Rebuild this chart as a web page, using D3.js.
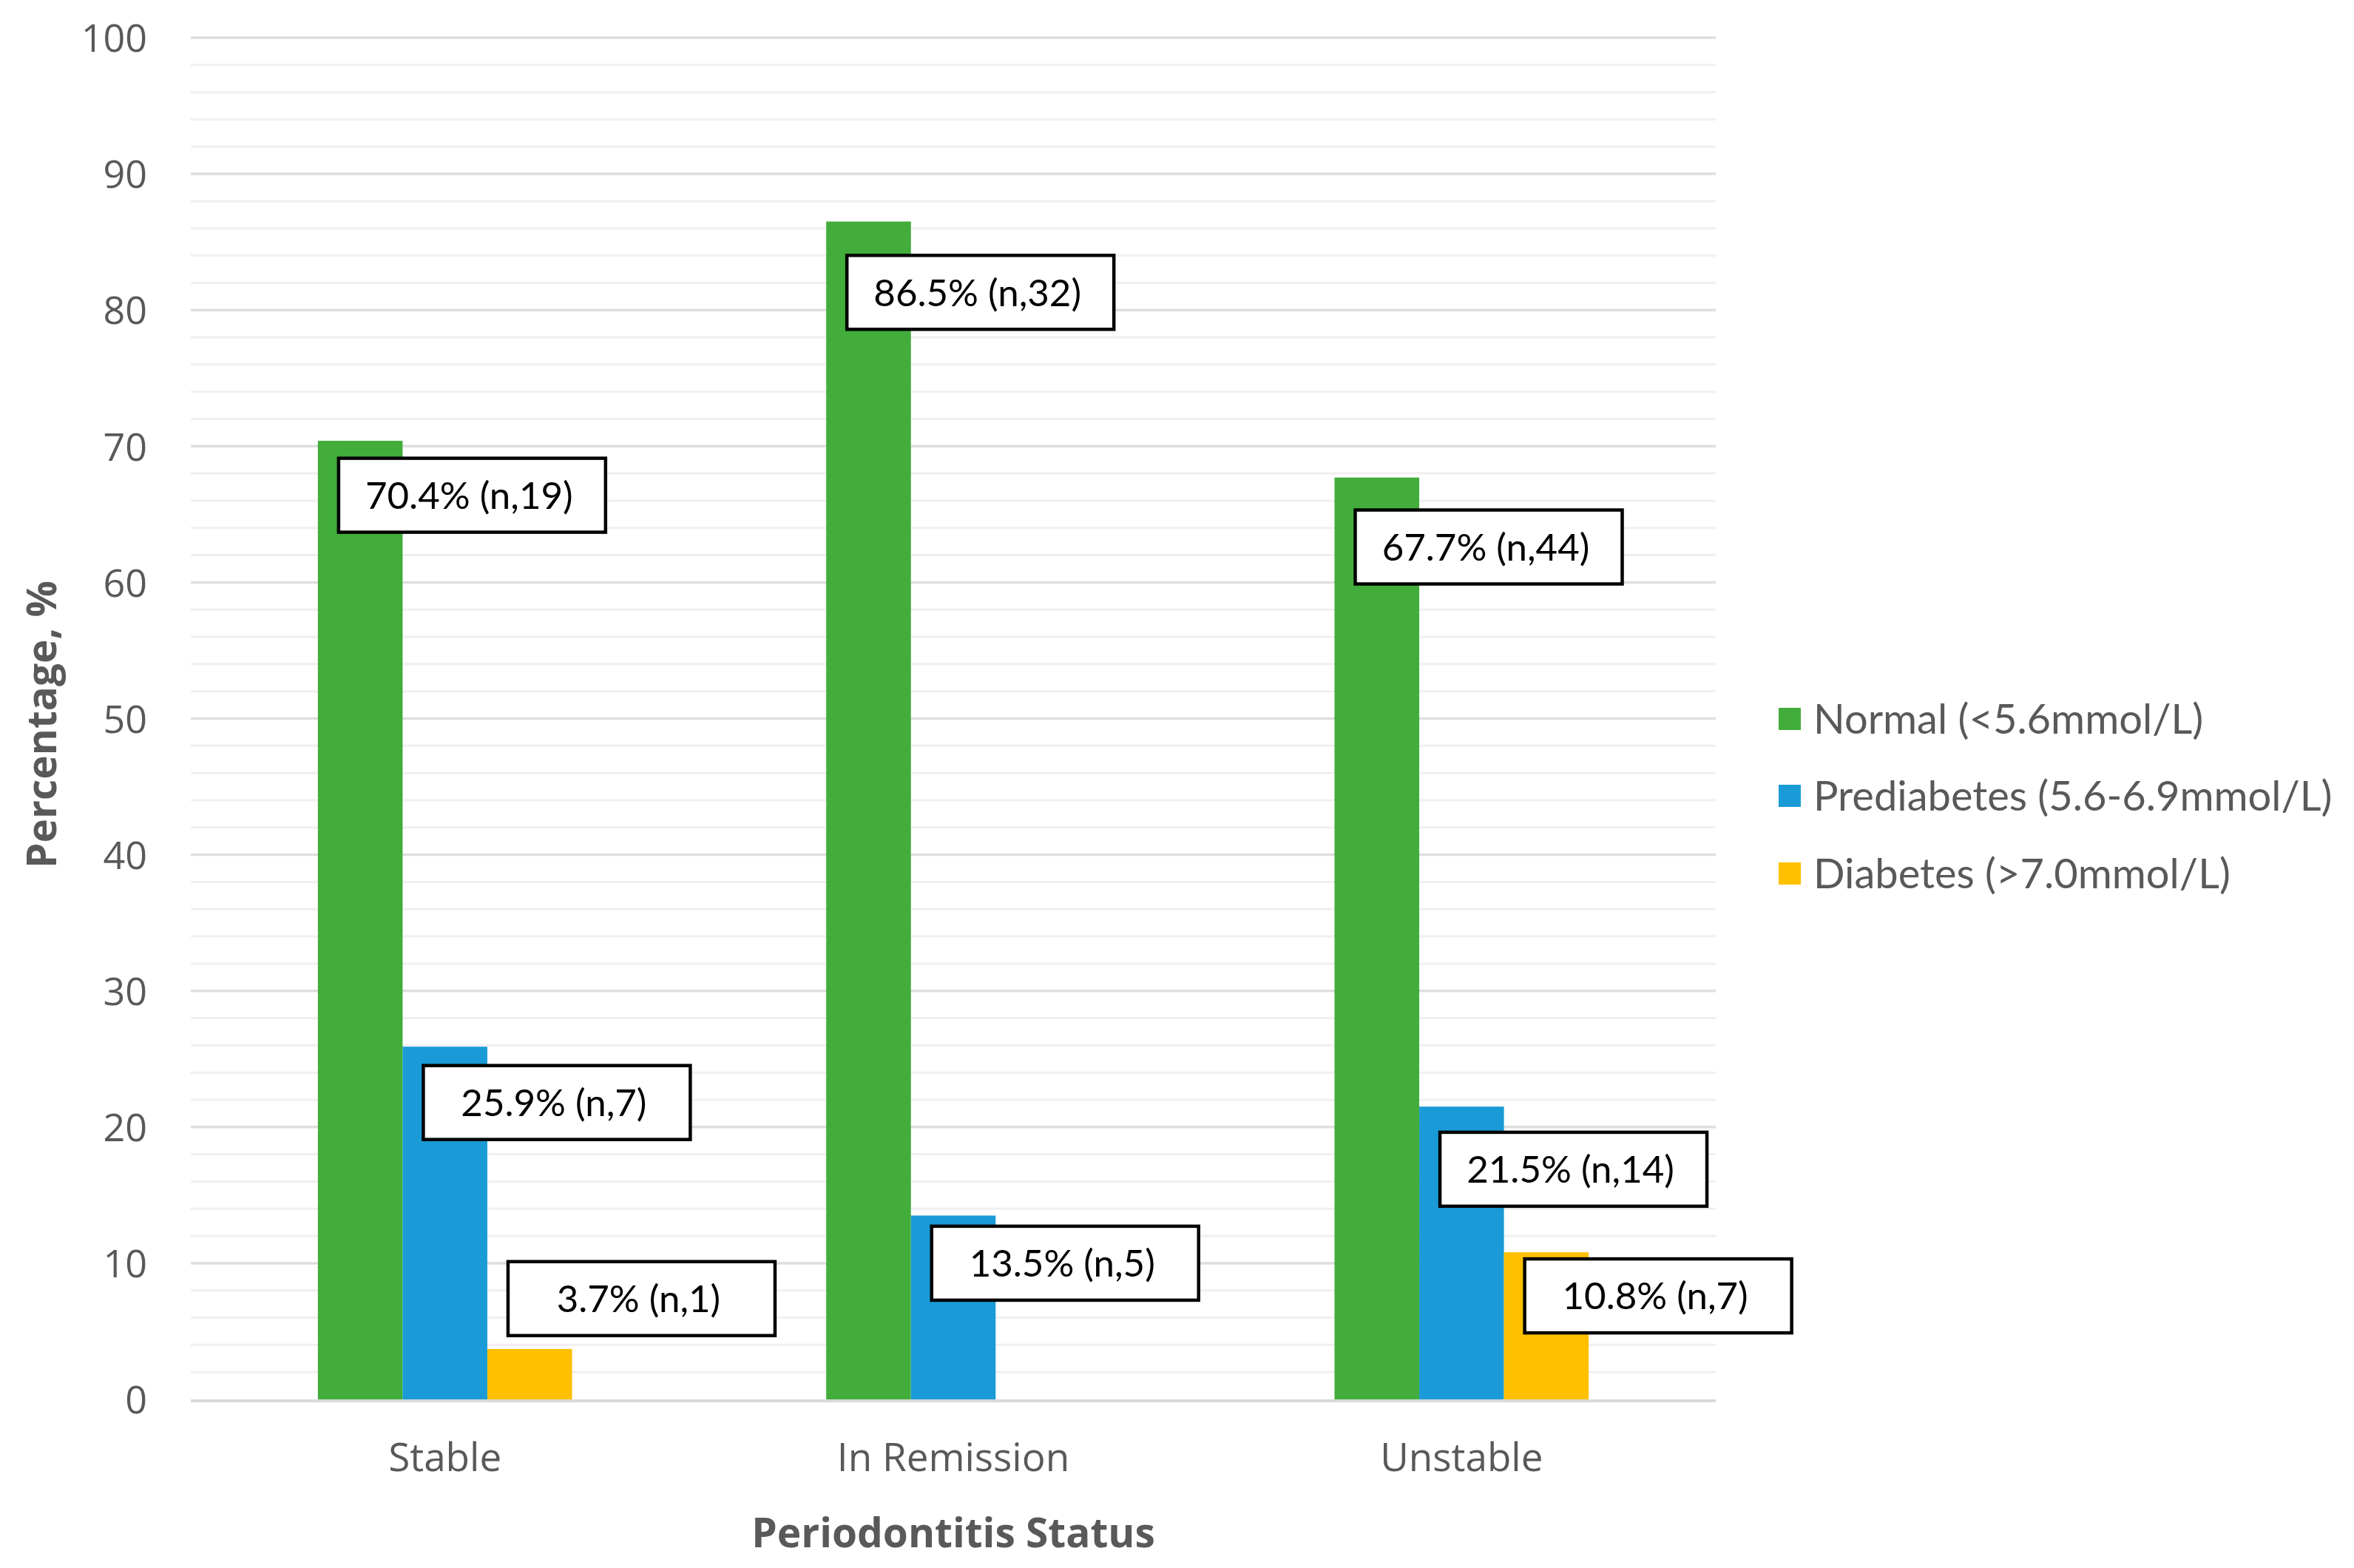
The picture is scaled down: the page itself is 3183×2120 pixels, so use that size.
<!DOCTYPE html>
<html>
<head>
<meta charset="utf-8">
<script src="https://cdn.jsdelivr.net/npm/d3@7"></script>
<style>
  html, body { margin: 0; padding: 0; background: #ffffff; }
  svg { display: block; }
</style>
</head>
<body>
<div id="chart"></div>
<script>
// ---- Data ----
const categories = ["Stable", "In Remission", "Unstable"];
const seriesNames = ["Normal (<5.6mmol/L)", "Prediabetes (5.6-6.9mmol/L)", "Diabetes (>7.0mmol/L)"];
const normalValues = [70.4, 86.5, 67.7];
const prediabetesValues = [25.9, 13.5, 21.5];
const diabetesValues = [3.7, 0, 10.8];
const normalLabels = ["70.4% (n,19)", "86.5% (n,32)", "67.7% (n,44)"];
const prediabetesLabels = ["25.9% (n,7)", "13.5% (n,5)", "21.5% (n,14)"];
const diabetesLabels = ["3.7% (n,1)", null, "10.8% (n,7)"];
const yTickValues = [0, 10, 20, 30, 40, 50, 60, 70, 80, 90, 100];
const xAxisTitle = "Periodontitis Status";
const yAxisTitle = "Percentage, %";

// ---- Layout (not data) ----
const W = 3183, H = 2120;
const plot = { left: 258, right: 2320, top: 51, bottom: 1892 };
const colors = ["#42AD3A", "#1A9BD7", "#FFC000"];
// label box vertical centres, expressed in value units (manually placed in original)
const labelCentres = [
  [66.4, 81.3, 62.6],
  [21.8, 10.0, 16.9],
  [7.4, null, 7.6]
];

const seriesValues = [normalValues, prediabetesValues, diabetesValues];
const seriesLabels = [normalLabels, prediabetesLabels, diabetesLabels];

const svg = d3.select("#chart").append("svg")
  .attr("width", W).attr("height", H)
  .attr("viewBox", `0 0 ${W} ${H}`);

const x0 = d3.scaleBand().domain(categories).range([plot.left, plot.right]).padding(0);
const groupW = x0.bandwidth() * 0.5;
const x1 = d3.scaleBand().domain(d3.range(seriesNames.length)).range([0, groupW]).padding(0);
const y = d3.scaleLinear().domain([0, 100]).range([plot.bottom, plot.top]);

// Minor gridlines
svg.append("g").selectAll("line")
  .data(y.ticks(50).filter(v => v % 10 !== 0))
  .join("line")
  .attr("x1", plot.left).attr("x2", plot.right)
  .attr("y1", d => y(d)).attr("y2", d => y(d))
  .attr("stroke", "#f0f0f0").attr("stroke-width", 3);

// Major gridlines
svg.append("g").selectAll("line")
  .data(yTickValues.filter(v => v !== 0))
  .join("line")
  .attr("x1", plot.left).attr("x2", plot.right)
  .attr("y1", d => y(d)).attr("y2", d => y(d))
  .attr("stroke", "#dedede").attr("stroke-width", 3.5);

// Y axis (labels only)
const yAxis = d3.axisLeft(y).tickValues(yTickValues).tickSize(0).tickPadding(0);
const yg = svg.append("g").attr("transform", `translate(${plot.left - 59},0)`).call(yAxis);
yg.select(".domain").remove();
yg.selectAll("text")
  .attr("font-family", "'Open Sans', sans-serif")
  .attr("font-size", 52)
  .attr("fill", "#595959")
  .attr("dy", "0.36em");

// Bars
const groups = svg.append("g").selectAll("g")
  .data(categories)
  .join("g")
  .attr("transform", d => `translate(${x0(d) + (x0.bandwidth() - groupW) / 2},0)`);

groups.each(function(cat, ci) {
  const g = d3.select(this);
  seriesValues.forEach((vals, si) => {
    const v = vals[ci];
    if (v > 0) {
      g.append("rect")
        .attr("x", x1(si))
        .attr("y", y(v))
        .attr("width", x1.bandwidth())
        .attr("height", y(0) - y(v))
        .attr("fill", colors[si]);
    }
  });
});

// Baseline (x axis line)
svg.append("line")
  .attr("x1", plot.left).attr("x2", plot.right)
  .attr("y1", y(0) + 2).attr("y2", y(0) + 2)
  .attr("stroke", "#d9d9d9").attr("stroke-width", 4);

// X axis labels
const xAxis = d3.axisBottom(x0).tickSize(0).tickPadding(0);
const xg = svg.append("g").attr("transform", `translate(0,${plot.bottom + 97})`).call(xAxis);
xg.select(".domain").remove();
xg.selectAll("text")
  .attr("font-family", "'Open Sans', sans-serif")
  .attr("font-size", 53)
  .attr("fill", "#595959")
  .attr("dy", "0");

// Data label boxes
const boxW = 361, boxH = 100;
seriesLabels.forEach((labels, si) => {
  labels.forEach((txt, ci) => {
    if (!txt) return;
    const bx = x0(categories[ci]) + (x0.bandwidth() - groupW) / 2 + x1(si) + 28;
    const cy = y(labelCentres[si][ci]);
    const g = svg.append("g");
    g.append("rect")
      .attr("x", bx).attr("y", cy - boxH / 2)
      .attr("width", boxW).attr("height", boxH)
      .attr("fill", "#ffffff")
      .attr("stroke", "#000000").attr("stroke-width", 4.5);
    g.append("text")
      .attr("x", bx + boxW / 2 - 4).attr("y", cy)
      .attr("dy", "0.36em")
      .attr("text-anchor", "middle")
      .attr("font-family", "Lato, 'Open Sans', sans-serif")
      .attr("font-size", 51)
      .attr("fill", "#000000")
      .text(txt);
  });
});

// Axis titles
svg.append("text")
  .attr("x", (plot.left + plot.right) / 2)
  .attr("y", 2092)
  .attr("text-anchor", "middle")
  .attr("font-family", "'Open Sans', sans-serif")
  .attr("font-weight", "bold")
  .attr("font-size", 55)
  .attr("fill", "#595959")
  .text(xAxisTitle);

svg.append("text")
  .attr("transform", `translate(76,${(plot.top + plot.bottom) / 2 + 8}) rotate(-90)`)
  .attr("text-anchor", "middle")
  .attr("font-family", "'Open Sans', sans-serif")
  .attr("font-weight", "bold")
  .attr("font-size", 55)
  .attr("fill", "#595959")
  .text(yAxisTitle);

// Legend
const legendRowsY = [972, 1076, 1181];
const legend = svg.append("g");
seriesNames.forEach((name, i) => {
  legend.append("rect")
    .attr("x", 2405).attr("y", legendRowsY[i] - 15)
    .attr("width", 30).attr("height", 30)
    .attr("fill", colors[i]);
  legend.append("text")
    .attr("x", 2452).attr("y", legendRowsY[i])
    .attr("dy", "0.36em")
    .attr("font-family", "Lato, 'Open Sans', sans-serif")
    .attr("font-size", 56)
    .attr("fill", "#595959")
    .text(name);
});
</script>
</body>
</html>
